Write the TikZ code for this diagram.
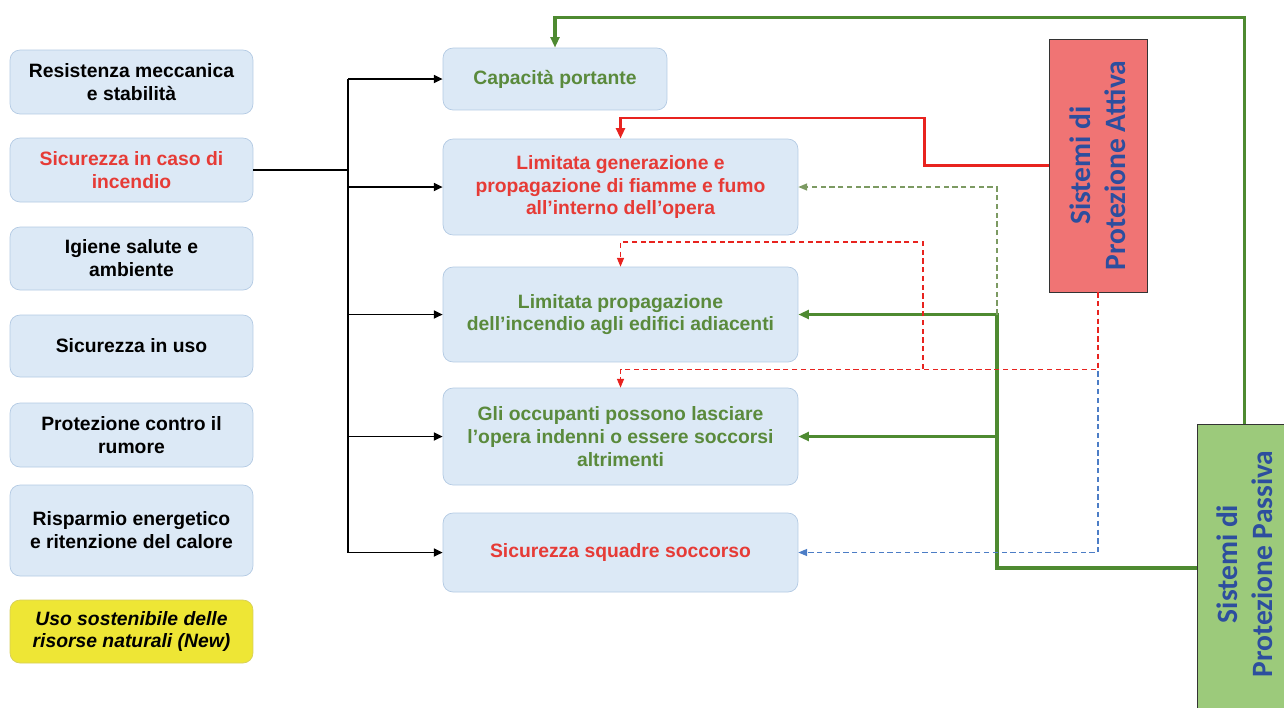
\documentclass[tikz,border=0pt]{standalone}
\usepackage{fontspec}
\setmainfont{Liberation Sans}
\newfontfamily\calibri{Carlito}
\usetikzlibrary{arrows.meta}
\definecolor{boxfill}{HTML}{DCE9F6}
\definecolor{boxline}{HTML}{B3CAE3}
\definecolor{newfill}{HTML}{EEE635}
\definecolor{newline}{HTML}{D6CF5A}
\definecolor{txtgreen}{HTML}{5A8A3C}
\definecolor{txtred}{HTML}{E63B36}
\definecolor{lngreen}{HTML}{4E8A31}
\definecolor{lnred}{HTML}{E8231F}
\definecolor{dshgreen}{HTML}{7C9A62}
\definecolor{dshblue}{HTML}{4C7DC6}
\definecolor{attfill}{HTML}{F07474}
\definecolor{pasfill}{HTML}{9CCA7B}
\definecolor{sysblue}{HTML}{2D4E9E}
\begin{document}
\begin{tikzpicture}[x=0.02cm, y=-0.02cm,
    req/.style={draw=boxline, fill=boxfill, rounded corners=0.2cm, minimum width=4.86cm,
        align=center, inner sep=2pt, font=\bfseries\fontsize{11}{13}\selectfont},
    sys/.style={draw=black!80, rotate=90, align=center, text=sysblue,
        font=\calibri\bfseries\fontsize{16.8}{20}\selectfont},
    blk/.style={line width=1.1pt, -{Triangle[length=5pt,width=4.5pt]}},
    gthick/.style={lngreen, line width=2pt},
    rthick/.style={lnred, line width=1.7pt},
    thin dash/.style={line width=0.7pt, dash pattern=on 3pt off 2pt}]
    \useasboundingbox (0,0) rectangle (1284,707);
    \clip (0,0) rectangle (1284,707);

    \node[req, minimum height=1.28cm] (l1) at (131.5,82) {Resistenza meccanica\\e stabilità};
    \node[req, minimum height=1.28cm, text=txtred] (l2) at (131.5,170) {Sicurezza in caso di\\incendio};
    \node[req, minimum height=1.26cm] (l3) at (131.5,258.5) {Igiene salute e\\ambiente};
    \node[req, minimum height=1.24cm] (l4) at (131.5,346) {Sicurezza in uso};
    \node[req, minimum height=1.28cm] (l5) at (131.5,435) {Protezione contro il\\rumore};
    \node[req, minimum height=1.82cm] (l6) at (131.5,530.5) {Risparmio energetico\\e ritenzione del calore};
    \node[req, minimum height=1.26cm, fill=newfill, draw=newline,
        font=\bfseries\itshape\fontsize{11}{13}\selectfont] (l7) at (131.5,631.5) {Uso sostenibile delle\\risorse naturali (New)};

    \node[req, minimum width=4.48cm, minimum height=1.24cm, text=txtgreen] (c1) at (555,79) {Capacità portante};
    \node[req, minimum width=7.1cm, minimum height=1.92cm, text=txtred] (c2) at (620.5,187) {Limitata generazione e\\propagazione di fiamme e fumo\\all’interno dell’opera};
    \node[req, minimum width=7.1cm, minimum height=1.9cm, text=txtgreen] (c3) at (620.5,314.5) {Limitata propagazione\\dell’incendio agli edifici adiacenti};
    \node[req, minimum width=7.1cm, minimum height=1.94cm, text=txtgreen] (c4) at (620.5,436.5) {Gli occupanti possono lasciare\\l’opera indenni o essere soccorsi\\altrimenti};
    \node[req, minimum width=7.1cm, minimum height=1.58cm, text=txtred] (c5) at (620.5,552.5) {Sicurezza squadre soccorso};

    \node[sys, fill=attfill, minimum width=5.06cm, minimum height=1.96cm] (att) at (1098,165.5) {Sistemi di\\Protezione Attiva};
    \node[sys, fill=pasfill, minimum width=7cm, minimum height=1.9cm] (pas) at (1244.5,599) {};
    \node[sys, draw=none] (pastext) at (1244.5,564) {Sistemi di\\Protezione Passiva};

    \coordinate (bus) at (348,170);
    \coordinate (gj) at (997,568);
    \coordinate (rj) at (923,369);

    \draw[line width=1.1pt] (l2.east) -- (bus);
    \draw[line width=1.1pt] (bus |- c1.west) -- (bus |- c5.west);
    \foreach \n in {c1,c2,c3,c4,c5}
        \draw[blk] (bus |- \n.west) -- (\n.west);

    \draw[gthick, -{Triangle[length=6pt,width=5pt]}] (pas.east) -- ++(0,-406) -| (c1.north);
    \draw[rthick, -{Triangle[length=6pt,width=5pt]}] (att.north) -| (924,118) -| (c2.north);

    \draw[gthick, -{Triangle[length=6pt,width=5pt]}] (pas.north |- gj) -- (gj) |- (c3.east);
    \draw[gthick, -{Triangle[length=6pt,width=5pt]}] (gj) |- (c4.east);
    \draw[thin dash, dshgreen, -{Triangle[length=5pt,width=4pt]}] (c3.east -| gj) |- (c2.east);

    \draw[thin dash, dshblue, -{Triangle[length=5pt,width=4pt]}] (att.west) |- (c5.east);
    \draw[thin dash, lnred, -{Triangle[length=5pt,width=4pt]}] (att.west) -- ++(0,77) -| (c4.north);
    \draw[thin dash, lnred, -{Triangle[length=5pt,width=4pt]}] (rj) -- ++(0,-127) -| (c3.north);
\end{tikzpicture}
\end{document}
